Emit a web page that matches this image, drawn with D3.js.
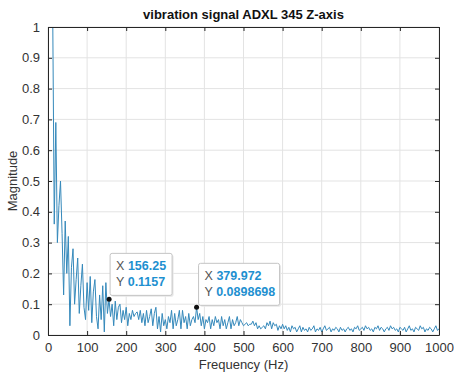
<!DOCTYPE html>
<html>
<head>
<meta charset="utf-8">
<script src="https://cdn.jsdelivr.net/npm/d3@7"></script>
<style>
  body { margin: 0; background: #fff; }
  text { font-family: "Liberation Sans", Arial, sans-serif; }
</style>
</head>
<body>
<div id="chart"></div>
<script>
const svgWidth = 454, svgHeight = 374;
const margin = { left: 48, right: 15, top: 27, bottom: 39 };
const width = svgWidth - margin.right;   // right edge of plot
const height = svgHeight - margin.bottom; // bottom edge of plot

// frequency spacing of the spectrum (Hz)
const freqStep = 4;

// magnitude values, one every 4 Hz from 0 to 1000 Hz
const magnitude = [
  3.0, 2.2, 1.5, 1.05, 0.36, 0.69, 0.30, 0.42, 0.50, 0.33,
  0.13, 0.37, 0.20, 0.32, 0.03, 0.22, 0.28, 0.10, 0.18, 0.25,
  0.07, 0.16, 0.23, 0.09, 0.05, 0.17, 0.08, 0.19, 0.04, 0.14,
  0.18, 0.06, 0.02, 0.13, 0.05, 0.16, 0.01, 0.17, 0.07, 0.116,
  0.06, 0.10, 0.03, 0.11, 0.05, 0.09, 0.10, 0.04, 0.08, 0.05,
  0.09, 0.03, 0.07, 0.05, 0.08, 0.06, 0.07, 0.075, 0.05, 0.08,
  0.04, 0.07, 0.03, 0.08, 0.04, 0.06, 0.085, 0.03, 0.07, 0.09,
  0.02, 0.06, 0.01, 0.07, 0.03, 0.05, 0.02, 0.06, 0.04, 0.08,
  0.02, 0.07, 0.03, 0.05, 0.08, 0.02, 0.08, 0.04, 0.06, 0.02,
  0.07, 0.03, 0.05, 0.06, 0.04, 0.09, 0.05, 0.07, 0.03, 0.06,
  0.02, 0.05, 0.04, 0.06, 0.02, 0.05, 0.03, 0.06, 0.04, 0.05,
  0.02, 0.06, 0.03, 0.05, 0.02, 0.04, 0.06, 0.02, 0.05, 0.03,
  0.04, 0.06, 0.03, 0.05, 0.04, 0.03, 0.035, 0.04, 0.03, 0.035,
  0.035, 0.045, 0.03, 0.04, 0.02, 0.03, 0.02, 0.025, 0.03, 0.02,
  0.04, 0.03, 0.045, 0.02, 0.04, 0.03, 0.035, 0.015, 0.03, 0.02,
  0.035, 0.02, 0.03, 0.015, 0.025, 0.01, 0.03, 0.02, 0.025, 0.01,
  0.02, 0.03, 0.01, 0.025, 0.015, 0.02, 0.01, 0.025, 0.015, 0.02,
  0.03, 0.01, 0.02, 0.015, 0.025, 0.01, 0.02, 0.03, 0.015, 0.02,
  0.025, 0.01, 0.02, 0.015, 0.025, 0.02, 0.01, 0.025, 0.015, 0.02,
  0.01, 0.02, 0.025, 0.015, 0.02, 0.01, 0.025, 0.02, 0.03, 0.015,
  0.02, 0.025, 0.015, 0.03, 0.02, 0.025, 0.015, 0.02, 0.01, 0.025,
  0.02, 0.03, 0.015, 0.025, 0.02, 0.01, 0.02, 0.025, 0.015, 0.03,
  0.02, 0.025, 0.015, 0.02, 0.01, 0.025, 0.02, 0.015, 0.025, 0.01,
  0.02, 0.03, 0.015, 0.02, 0.01, 0.025, 0.02, 0.015, 0.03, 0.02,
  0.025, 0.01, 0.02, 0.015, 0.025, 0.02, 0.01, 0.02, 0.03, 0.015,
  0.02
];

const xTicks = [0, 100, 200, 300, 400, 500, 600, 700, 800, 900, 1000];
const yTicks = [0, 0.1, 0.2, 0.3, 0.4, 0.5, 0.6, 0.7, 0.8, 0.9, 1];

// data tips
const tipX = [156.25, 379.972];
const tipY = [0.1157, 0.0898698];
const tipXLabel = ["156.25", "379.972"];
const tipYLabel = ["0.1157", "0.0898698"];

const spectrum = magnitude.map((m, i) => ({ f: i * freqStep, m: m }));

const svg = d3.select("#chart")
    .append("svg")
    .attr("width", svgWidth)
    .attr("height", svgHeight);

const x = d3.scaleLinear().domain([0, 1000]).range([margin.left, width]);
const y = d3.scaleLinear().domain([0, 1]).range([height, margin.top]);

// grid
svg.append("g")
    .selectAll("line.vx")
    .data(xTicks)
    .enter().append("line")
    .attr("x1", d => x(d)).attr("x2", d => x(d))
    .attr("y1", margin.top).attr("y2", height)
    .attr("stroke", "#e3e3e3").attr("stroke-width", 1);

svg.append("g")
    .selectAll("line.hy")
    .data(yTicks)
    .enter().append("line")
    .attr("x1", margin.left).attr("x2", width)
    .attr("y1", d => y(d)).attr("y2", d => y(d))
    .attr("stroke", "#e3e3e3").attr("stroke-width", 1);

// clip the line to the plot box
svg.append("clipPath").attr("id", "clip")
    .append("rect")
    .attr("x", margin.left).attr("y", margin.top)
    .attr("width", width - margin.left).attr("height", height - margin.top);

const line = d3.line()
    .x(d => x(d.f))
    .y(d => y(d.m));

svg.append("path")
    .datum(spectrum)
    .attr("clip-path", "url(#clip)")
    .attr("fill", "none")
    .attr("stroke", "#3589bb")
    .attr("stroke-width", 1)
    .attr("d", line);

// axes (ticks point inward, box all round)
const axisColor = "#262626";
const xAxis = svg.append("g")
    .attr("transform", `translate(0, ${height})`)
    .call(d3.axisBottom(x).tickValues(xTicks).tickFormat(d3.format("d")).tickSizeInner(-4).tickSizeOuter(0).tickPadding(8));
const yAxis = svg.append("g")
    .attr("transform", `translate(${margin.left}, 0)`)
    .call(d3.axisLeft(y).tickValues(yTicks).tickFormat(d3.format("~g")).tickSizeInner(-4).tickSizeOuter(0).tickPadding(8));
const xTop = svg.append("g")
    .attr("transform", `translate(0, ${margin.top})`)
    .call(d3.axisTop(x).tickValues(xTicks).tickSizeInner(-4).tickSizeOuter(0).tickFormat(""));
const yRight = svg.append("g")
    .attr("transform", `translate(${width}, 0)`)
    .call(d3.axisRight(y).tickValues(yTicks).tickSizeInner(-4).tickSizeOuter(0).tickFormat(""));

[xAxis, yAxis, xTop, yRight].forEach(g => {
    g.select(".domain").attr("stroke", axisColor);
    g.selectAll(".tick line").attr("stroke", axisColor);
    g.selectAll(".tick text")
        .attr("fill", "#333")
        .style("font-size", "13px")
        .style("font-family", "'Liberation Sans', Arial, sans-serif");
});

// title and axis labels
svg.append("text")
    .attr("x", (margin.left + width) / 2)
    .attr("y", 19)
    .style("text-anchor", "middle")
    .style("font-size", "13px")
    .style("font-weight", "bold")
    .attr("fill", "#111")
    .text("vibration signal ADXL 345 Z-axis");

svg.append("text")
    .attr("x", (margin.left + width) / 2)
    .attr("y", 369)
    .style("text-anchor", "middle")
    .style("font-size", "13px")
    .attr("fill", "#333")
    .text("Frequency (Hz)");

svg.append("text")
    .attr("transform", "rotate(-90)")
    .attr("x", -(margin.top + height) / 2)
    .attr("y", 17)
    .style("text-anchor", "middle")
    .style("font-size", "13px")
    .attr("fill", "#333")
    .text("Magnitude");

// data tips
const tipBox = [
    { dx: 1, dy: -46, w: 62, h: 42 },
    { dx: 2, dy: -44, w: 81, h: 42 }
];

tipX.forEach((tx, i) => {
    const px = x(tx), py = y(tipY[i]);
    const b = tipBox[i];
    const g = svg.append("g").attr("transform", `translate(${px + b.dx}, ${py + b.dy})`);
    g.append("rect")
        .attr("x", 1.5).attr("y", 1.5)
        .attr("width", b.w).attr("height", b.h)
        .attr("rx", 2)
        .attr("fill", "#e8e8e8");
    g.append("rect")
        .attr("width", b.w).attr("height", b.h)
        .attr("rx", 2)
        .attr("fill", "#fff")
        .attr("stroke", "#c4c4c4");
    const rows = [["X", tipXLabel[i]], ["Y", tipYLabel[i]]];
    rows.forEach((r, j) => {
        const t = g.append("text")
            .attr("x", 6)
            .attr("y", 17 + j * 16)
            .style("font-size", "12.5px");
        t.append("tspan").attr("fill", "#555").text(r[0] + " ");
        t.append("tspan").attr("fill", "#1e90d0").style("font-weight", "bold").text(r[1]);
    });
    svg.append("circle")
        .attr("cx", px).attr("cy", py)
        .attr("r", 2.5)
        .attr("fill", "#111");
});
</script>
</body>
</html>
